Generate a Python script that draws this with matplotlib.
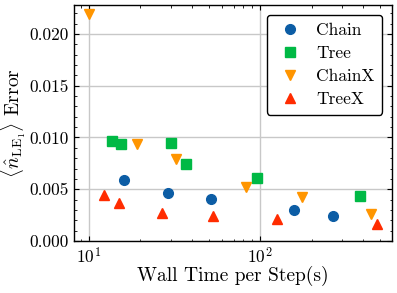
import matplotlib
matplotlib.use("Agg")
import matplotlib.pyplot as plt

# science-like style
plt.rcParams["font.family"] = "serif"
plt.rcParams["font.serif"] = ["cmr10"]
plt.rcParams["mathtext.fontset"] = "cm"
plt.rcParams["axes.formatter.use_mathtext"] = True
plt.rcParams["axes.unicode_minus"] = False

# wall time per step (s) and error values
chain_t = [16.0, 28.8, 51.5, 157, 266]
chain_err = [0.0059, 0.00464, 0.00406, 0.0030, 0.0024]

tree_t = [13.7, 15.4, 30.1, 36.7, 96.4, 385]
tree_err = [0.00964, 0.00941, 0.00948, 0.00742, 0.00612, 0.00435]

chainx_t = [10.0, 19.0, 32.3, 83.2, 177, 445]
chainx_err = [0.0219, 0.00938, 0.0079, 0.0052, 0.00422, 0.00258]

treex_t = [12.2, 15.0, 26.8, 53.4, 126, 481]
treex_err = [0.00442, 0.0037, 0.0027, 0.00242, 0.00213, 0.00164]

fig = plt.figure(figsize=(3.97, 2.93), dpi=100)
ax = fig.add_axes([74 / 397, 1 - 241 / 293, 318 / 397, 236 / 293])

ms = 7
ax.plot(chain_t, chain_err, "o", color="#0C5DA5", ms=ms, label="Chain")
ax.plot(tree_t, tree_err, "s", color="#00B945", ms=ms, label="Tree")
ax.plot(chainx_t, chainx_err, "v", color="#FF9500", ms=ms, label="ChainX")
ax.plot(treex_t, treex_err, "^", color="#FF2C00", ms=ms, label="TreeX")

ax.set_xscale("log")
ax.set_xlim(8.17, 591)
ax.set_ylim(0, 0.0228)
ax.set_yticks([0, 0.005, 0.010, 0.015, 0.020])
ax.set_yticklabels(["0.000", "0.005", "0.010", "0.015", "0.020"])
ax.yaxis.set_minor_locator(matplotlib.ticker.MultipleLocator(0.001))

ax.grid(True, which="major", color="#c8c8c8", lw=1.0)
ax.tick_params(which="both", direction="in", top=True, right=True, labelsize=12.5)
ax.tick_params(which="major", length=3.5, width=0.8)
ax.tick_params(which="minor", length=1.8, width=0.6)
for s in ax.spines.values():
    s.set_linewidth(1.0)

ax.set_xlabel("Wall Time per Step(s)", fontsize=14, labelpad=0)
ax.set_ylabel(r"$\langle \hat{n}_{\mathrm{LE}_1} \rangle$ Error", fontsize=14)
ax.yaxis.set_label_coords(-0.145, 0.5)

leg = ax.legend(loc="upper right", fontsize=12.5, frameon=True, fancybox=True,
                edgecolor="black", framealpha=1, handletextpad=0.6,
                handlelength=1.8, borderpad=0.45, labelspacing=0.45,
                borderaxespad=0.55)
leg.get_frame().set_linewidth(1.0)

fig.savefig("out.png", dpi=100)
